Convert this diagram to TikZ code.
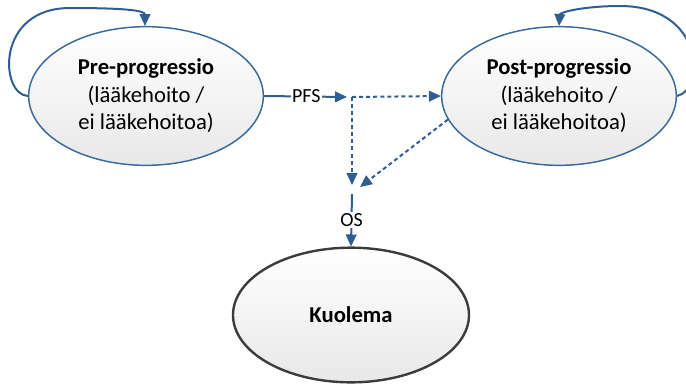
\documentclass[tikz,border=0pt]{standalone}
\usepackage{fontspec}
\setmainfont{Carlito}
\usetikzlibrary{shapes.geometric,arrows.meta}
\definecolor{Bord}{HTML}{3A6A9C}
\definecolor{Fleche}{HTML}{2E5E92}
\definecolor{Gris}{HTML}{3C3C3C}
\tikzset{Etat/.style={draw=Bord,line width=1.1pt,ellipse,inner sep=0pt,top color=white,bottom color=black!9,minimum width=176pt,minimum height=104pt,align=center,font=\fontsize{17}{20.6}\selectfont}}
\tikzset{Fin/.style={Etat,draw=Gris,line width=1.8pt,minimum width=177pt,minimum height=101pt}}
\tikzset{Lien/.style={draw=Fleche,line width=1.5pt,-{Triangle[length=9pt,width=8pt]}}}
\tikzset{Tiret/.style={Lien,dash pattern=on 3pt off 2.3pt}}
\tikzset{Etiq/.style={fill=white,inner sep=1pt,font=\fontsize{15}{17}\selectfont}}

\begin{document}
\begin{tikzpicture}[x=0.75pt,y=-0.75pt]
\useasboundingbox (0,0) rectangle (686,387);

\node[Etat] (pre) at (146,96) {\textbf{Pre-progressio}\\(lääkehoito /\\ei lääkehoitoa)};
\node[Etat] (post) at (559,96) {\textbf{Post-progressio}\\(lääkehoito /\\ei lääkehoitoa)};
\node[Fin] (mort) at (351,315) {\textbf{Kuolema}};

\coordinate (pfsFin) at (347,97);
\coordinate (jct) at (352,97);
\coordinate (basV) at (352,185);
\coordinate (basD) at (360,187);
\coordinate (osHaut) at (352,194);
\coordinate (preHaut) at (145,26);
\coordinate (postHaut) at (559,26);

% boucles
\draw[Lien] (pre.west) .. controls (0,95) and (-5,8) .. (70,8) .. controls (120,8) and (145,10) .. (preHaut);
\draw[Lien] (post.east) .. controls (705,90) and (705,6) .. (620,6) .. controls (585,6) and (560,12) .. (postHaut);

% transitions
\draw[Lien] (pre.east) -- node[Etiq,pos=0.51] (pfs) {PFS} (pfsFin);
\draw[Tiret] (jct) -- (post.west);
\draw[Tiret] (jct) -- (basV);
\draw[Tiret] (post.192) -- (basD);
\draw[Lien] (osHaut) -- node[Etiq,pos=0.5] (os) {OS} (mort.north);

\end{tikzpicture}
\end{document}
